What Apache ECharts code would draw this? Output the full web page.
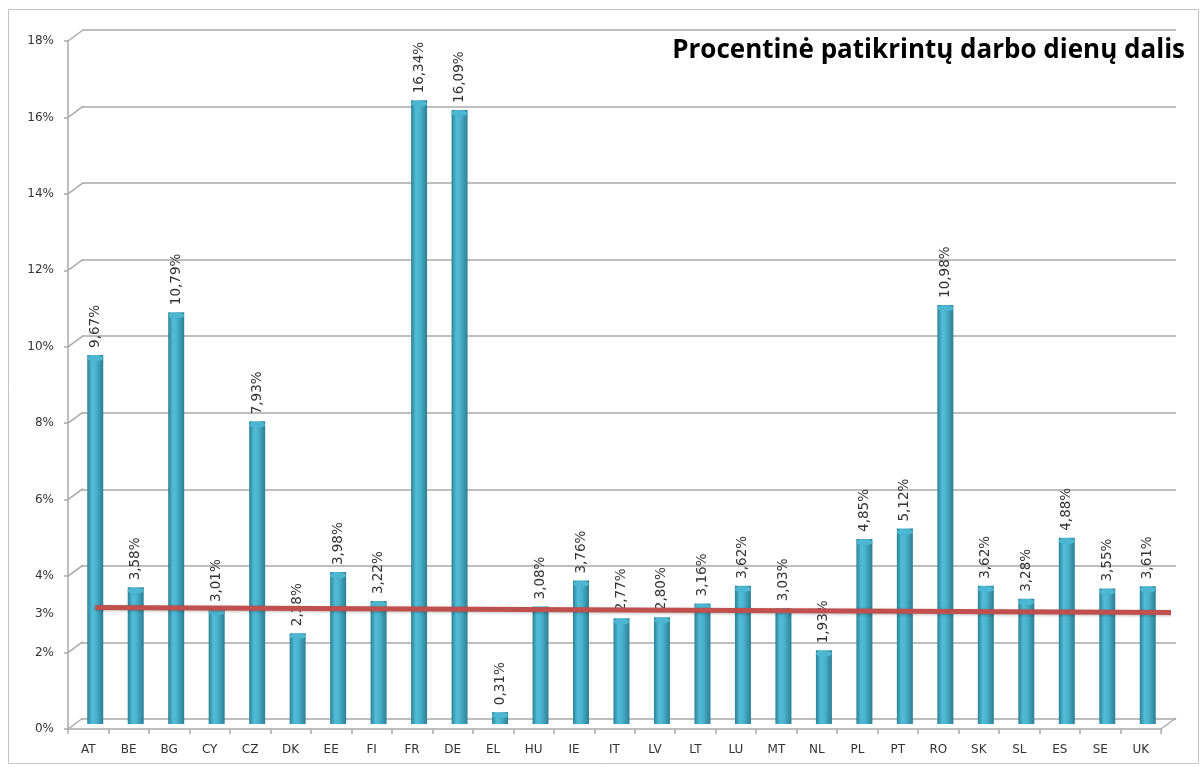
<!DOCTYPE html>
<html>
<head>
<meta charset="utf-8">
<script src="https://cdn.jsdelivr.net/npm/echarts@6/dist/echarts.min.js"></script>
<style>
    html, body { margin: 0; padding: 0; background: #fff; }
    #chart_main { width: 1203px; height: 767px; }
</style>
</head>
<body>
<div id="chart_main"></div>
<script>
// kategorijos (šalys)
var countries = ['AT', 'BE', 'BG', 'CY', 'CZ', 'DK', 'EE', 'FI', 'FR', 'DE', 'EL', 'HU', 'IE', 'IT',
    'LV', 'LT', 'LU', 'MT', 'NL', 'PL', 'PT', 'RO', 'SK', 'SL', 'ES', 'SE', 'UK'];
// procentinė patikrintų darbo dienų dalis
var shareValues = [9.67, 3.58, 10.79, 3.01, 7.93, 2.38, 3.98, 3.22, 16.34, 16.09, 0.31, 3.08, 3.76, 2.77,
    2.80, 3.16, 3.62, 3.03, 1.93, 4.85, 5.12, 10.98, 3.62, 3.28, 4.88, 3.55, 3.61];
// raudona linija (3%) - galai [x, y]
var avgLine = [[0, 3.05], [27, 2.92]];
// y ašies žymės
var yLabelValues = [0, 2, 3, 4, 6, 8, 10, 12, 14, 16, 18];
var yGridValues = [0, 2, 4, 6, 8, 10, 12, 14, 16, 18];

var myChart = echarts.init(document.getElementById('chart_main'));

var gridColor = '#a9a9a9';
var textColor = '#333';

option = {
    animation: false,
    backgroundColor: '#fff',
    title: {
        text: 'Procentinė patikrintų darbo dienų dalis',
        right: 13,
        top: 33,
        textStyle: {
            fontFamily: 'Open Sans',
            fontWeight: 'bold',
            fontSize: 26,
            color: '#000'
        }
    },
    graphic: [{
        type: 'rect',
        shape: { x: 8.5, y: 9.5, width: 1190, height: 754 },
        style: { fill: 'none', stroke: '#c4c4c4', lineWidth: 1 },
        z: -10
    }],
    grid: [
        // 0: priekinė plokštuma (ašys)
        { left: 68, right: 42, top: 41, bottom: 38 },
        // 1: galinė siena (tinklelis)
        { left: 82, right: 27, top: 30, bottom: 48 },
        // 2: stulpeliai (vidurinis gylis)
        { left: 75, right: 35, top: 37, bottom: 43 }
    ],
    xAxis: [{
        gridIndex: 0,
        type: 'category',
        data: countries,
        axisLine: { lineStyle: { color: gridColor, width: 1.5 } },
        axisTick: { show: true, length: 5, lineStyle: { color: gridColor, width: 1.5 } },
        axisLabel: { color: textColor, fontFamily: 'DejaVu Sans', fontSize: 12, margin: 15 }
    }, {
        gridIndex: 1,
        type: 'category',
        data: countries,
        show: false
    }, {
        gridIndex: 2,
        type: 'category',
        data: countries,
        show: false
    }, {
        gridIndex: 2,
        type: 'value',
        min: -0.5,
        max: 26.5,
        show: false
    }],
    yAxis: [{
        gridIndex: 0,
        type: 'value',
        min: 0,
        max: 18,
        interval: 2,
        axisLine: { show: true, lineStyle: { color: gridColor, width: 1.5 } },
        axisTick: { show: true, length: 4, lineStyle: { color: gridColor, width: 1.5 } },
        splitLine: { show: false },
        axisLabel: {
            customValues: yLabelValues,
            color: textColor,
            fontFamily: 'DejaVu Sans',
            fontSize: 12,
            margin: 14,
            formatter: function(v) { return v + '%'; }
        }
    }, {
        gridIndex: 1,
        type: 'value',
        min: 0,
        max: 18,
        interval: 2,
        axisLine: { show: false },
        axisTick: { show: false },
        axisLabel: { show: false },
        splitLine: { show: true, lineStyle: { color: gridColor, width: 1.5 } }
    }, {
        gridIndex: 2,
        type: 'value',
        min: 0,
        max: 18,
        show: false
    }],
    series: [{
        // 3D jungtys tarp priekinės ašies ir galinės sienos
        type: 'custom',
        xAxisIndex: 0,
        yAxisIndex: 0,
        silent: true,
        data: yGridValues.map(function(v) { return [0, v]; }),
        renderItem: function(params, api) {
            var v = api.value(1);
            var band = api.size([1, 0])[0];
            var p = api.coord([0, v]);
            var left = p[0] - band / 2;
            var children = [{
                type: 'line',
                shape: { x1: left, y1: p[1], x2: left + 15, y2: p[1] - 11 },
                style: { stroke: gridColor, lineWidth: 1.5 }
            }];
            if (v === 0) {
                var q = api.coord([countries.length - 1, 0]);
                var right = q[0] + band / 2;
                children.push({
                    type: 'line',
                    shape: { x1: right, y1: q[1], x2: right + 15, y2: q[1] - 11 },
                    style: { stroke: gridColor, lineWidth: 1.5 }
                });
            }
            return { type: 'group', children: children };
        }
    }, {
        name: 'Dalis',
        type: 'bar',
        xAxisIndex: 2,
        yAxisIndex: 2,
        barWidth: 16,
        z: 3,
        data: shareValues,
        itemStyle: {
            color: new echarts.graphic.LinearGradient(0, 0, 1, 0, [
                { offset: 0, color: '#2a8199' },
                { offset: 0.3, color: '#52bcd6' },
                { offset: 0.55, color: '#4ab2cc' },
                { offset: 1, color: '#2b7f96' }
            ])
        },
        label: {
            show: true,
            position: 'top',
            rotate: 90,
            align: 'left',
            verticalAlign: 'middle',
            distance: 7,
            color: textColor,
            fontFamily: 'DejaVu Sans',
            fontSize: 13.5,
            formatter: function(p) {
                return p.value.toFixed(2).replace('.', ',') + '%';
            }
        }
    }, {
        // cilindro viršus
        type: 'pictorialBar',
        xAxisIndex: 2,
        yAxisIndex: 2,
        symbol: 'circle',
        symbolSize: [16, 6],
        symbolPosition: 'end',
        z: 4,
        silent: true,
        data: shareValues,
        itemStyle: { color: '#4db6d0', borderColor: '#2f8aa2', borderWidth: 1 }
    }, {
        name: '3%',
        type: 'line',
        xAxisIndex: 3,
        yAxisIndex: 2,
        z: 5,
        clip: false,
        symbol: 'none',
        silent: true,
        data: avgLine,
        lineStyle: {
            color: '#c0504d',
            width: 5,
            shadowColor: 'rgba(0,0,0,0.25)',
            shadowBlur: 3,
            shadowOffsetY: 1
        }
    }]
};

myChart.setOption(option);
</script>
</body>
</html>
